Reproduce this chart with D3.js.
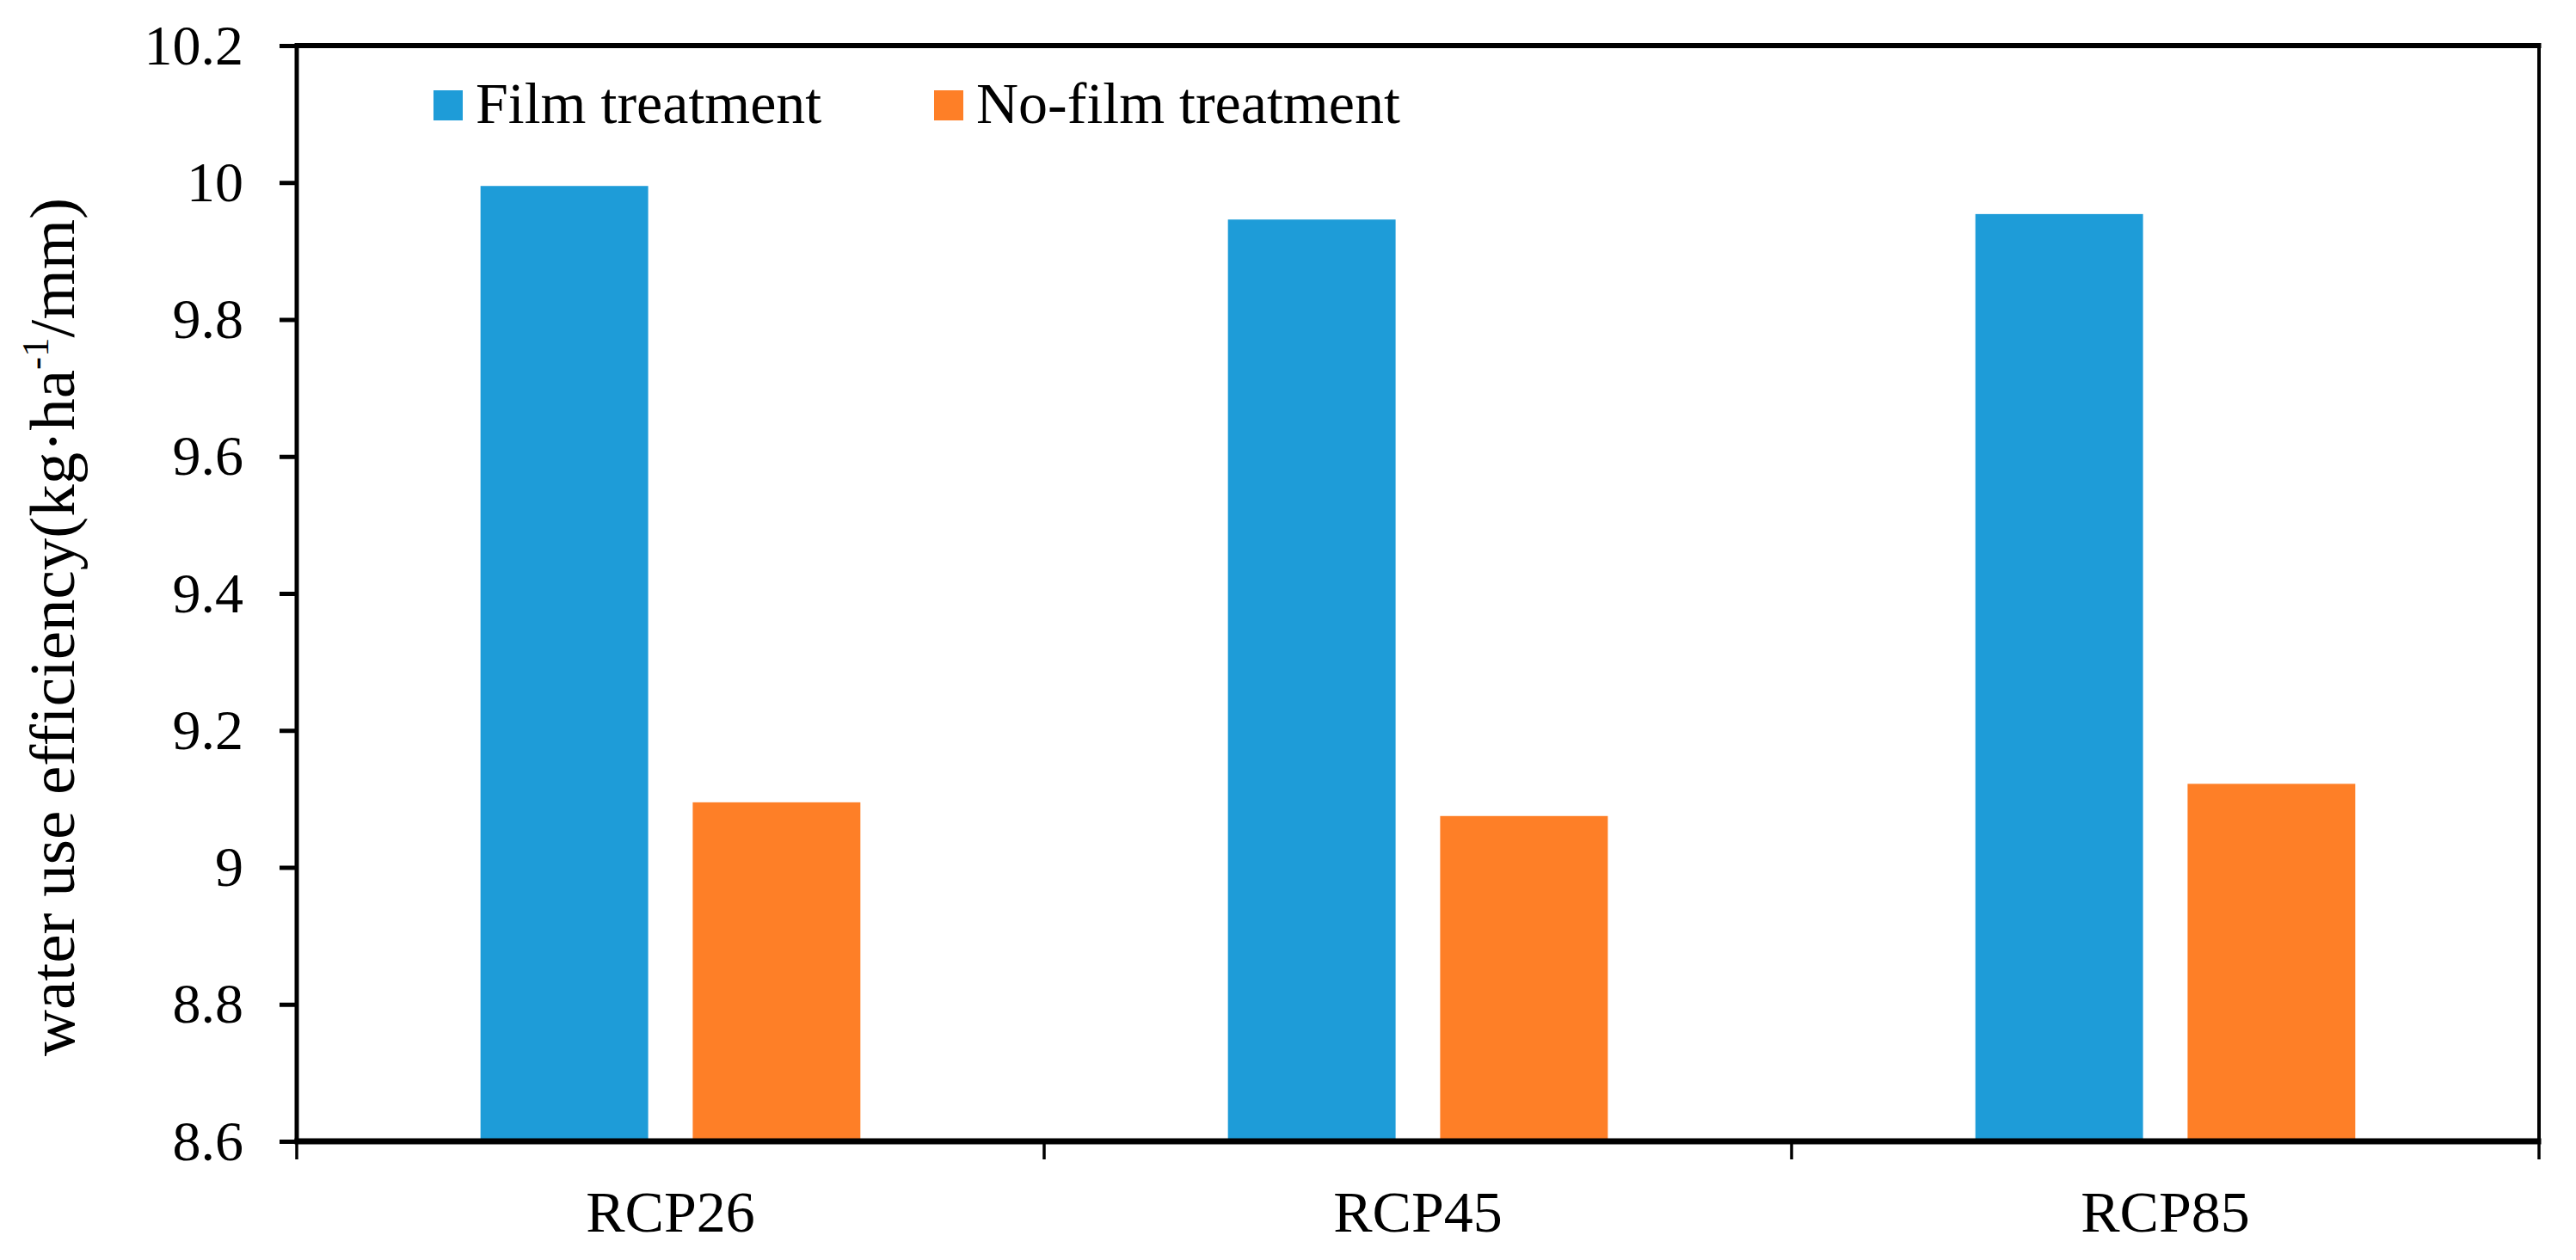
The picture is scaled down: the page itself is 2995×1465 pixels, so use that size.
<!DOCTYPE html>
<html>
<head>
<meta charset="utf-8">
<script src="https://cdn.jsdelivr.net/npm/d3@7"></script>
<style>
  html, body { margin: 0; padding: 0; background: #fff; overflow: hidden; }
  #chart svg { display: block; width: 100vw; height: 100vh; }
  text { font-family: "Liberation Serif", "Times New Roman", serif; fill: #000; }
</style>
</head>
<body>
<div id="chart"></div>
<script>
// Data
const scenarios = ["RCP26", "RCP45", "RCP85"];
const treatments = ["Film treatment", "No-film treatment"];
const filmValues = [9.995, 9.946, 9.954];
const noFilmValues = [9.095, 9.075, 9.122];
const yTicks = [8.6, 8.8, 9, 9.2, 9.4, 9.6, 9.8, 10, 10.2];
const colors = ["#1e9cd8", "#fe7f27"];

const width = 2995;
const height = 1465;
const margin = { top: 53, right: 43, bottom: 138, left: 345 };
const innerWidth = width - margin.left - margin.right;
const innerHeight = height - margin.top - margin.bottom;

const data = scenarios.map((s, i) => ({
  scenario: s,
  values: [filmValues[i], noFilmValues[i]]
}));

/*******************************/
/*    Append the containers    */
/*******************************/
const svg = d3.select("#chart")
  .append("svg")
    .attr("viewBox", `0 0 ${width} ${height}`)
    .attr("preserveAspectRatio", "xMidYMid meet");

const innerChart = svg
  .append("g")
    .attr("transform", `translate(${margin.left}, ${margin.top})`);

/****************************/
/*    Declare the scales    */
/****************************/
const x0 = d3.scaleBand()
  .domain(scenarios)
  .range([0, innerWidth])
  .padding(0);

const x1 = d3.scaleBand()
  .domain(treatments)
  .range([0, x0.bandwidth()])
  .paddingInner(0.21)
  .paddingOuter(0.866);

const yScale = d3.scaleLinear()
  .domain([8.6, 10.2])
  .range([innerHeight, 0]);

const colorScale = d3.scaleOrdinal()
  .domain(treatments)
  .range(colors);

/***********************/
/*    Draw the bars    */
/***********************/
const groups = innerChart.selectAll(".group")
  .data(data)
  .join("g")
    .attr("class", "group")
    .attr("transform", d => `translate(${x0(d.scenario)}, 0)`);

groups.selectAll("rect")
  .data(d => d.values.map((v, i) => ({ key: treatments[i], value: v })))
  .join("rect")
    .attr("x", d => x1(d.key))
    .attr("y", d => yScale(d.value))
    .attr("width", x1.bandwidth())
    .attr("height", d => innerHeight - yScale(d.value))
    .attr("fill", d => colorScale(d.key));

/***************************/
/*     Append the axes     */
/***************************/
// Left axis
const leftAxis = d3.axisLeft(yScale)
  .tickValues(yTicks)
  .tickFormat(d => d3.format("~g")(d))
  .tickSize(20)
  .tickPadding(42);
const yAxis = innerChart.append("g")
  .attr("class", "axis-y")
  .call(leftAxis);
yAxis.select(".domain").remove();
yAxis.selectAll(".tick line")
  .attr("stroke", "#000")
  .attr("stroke-width", 5);
yAxis.selectAll(".tick text")
  .attr("font-size", 66)
  .attr("font-family", "Liberation Serif");

// Bottom axis labels
const bottomAxis = d3.axisBottom(x0).tickSize(0).tickPadding(0);
const xAxis = innerChart.append("g")
  .attr("class", "axis-x")
  .attr("transform", `translate(0, ${innerHeight})`)
  .call(bottomAxis);
xAxis.select(".domain").remove();
xAxis.selectAll(".tick text")
  .attr("y", 105)
  .attr("dy", 0)
  .attr("font-size", 68)
  .attr("font-family", "Liberation Serif");

// Boundary ticks between categories
const boundaries = scenarios.map(s => x0(s)).concat([innerWidth]);
innerChart.selectAll(".x-boundary")
  .data(boundaries)
  .join("line")
    .attr("class", "x-boundary")
    .attr("x1", d => d)
    .attr("x2", d => d)
    .attr("y1", innerHeight)
    .attr("y2", innerHeight + 21)
    .attr("stroke", "#000")
    .attr("stroke-width", 3.5);

// Frame
const frame = [
  { x1: 0, y1: 0, x2: innerWidth, y2: 0, w: 6 },
  { x1: innerWidth, y1: 0, x2: innerWidth, y2: innerHeight, w: 4 },
  { x1: 0, y1: innerHeight, x2: innerWidth, y2: innerHeight, w: 7 },
  { x1: 0, y1: 0, x2: 0, y2: innerHeight, w: 5 }
];
innerChart.selectAll(".frame")
  .data(frame)
  .join("line")
    .attr("class", "frame")
    .attr("x1", d => d.x1 - (d.y1 === d.y2 ? 2.5 : 0))
    .attr("x2", d => d.x2 + (d.y1 === d.y2 ? 2.5 : 0))
    .attr("y1", d => d.y1)
    .attr("y2", d => d.y2)
    .attr("stroke", "#000")
    .attr("stroke-width", d => d.w);

/*************************/
/*    Axis title (y)     */
/*************************/
const yTitle = svg.append("text")
  .attr("transform", `translate(86, ${729}) rotate(-90)`)
  .attr("text-anchor", "middle")
  .attr("font-size", 75);
yTitle.append("tspan").text("water use efficiency(kg·ha");
yTitle.append("tspan")
  .attr("font-size", 45)
  .attr("dy", -30)
  .text("-1");
yTitle.append("tspan")
  .attr("dy", 30)
  .text("/mm)");

/*******************/
/*     Legend      */
/*******************/
const legendX = [504, 1086];
const legend = svg.selectAll(".legend")
  .data(treatments)
  .join("g")
    .attr("class", "legend")
    .attr("transform", (d, i) => `translate(${legendX[i]}, 105)`);
legend.append("rect")
  .attr("width", 34)
  .attr("height", 35)
  .attr("fill", d => colorScale(d));
legend.append("text")
  .attr("x", 49)
  .attr("y", 38)
  .attr("font-size", 68)
  .text(d => d);
</script>
</body>
</html>
